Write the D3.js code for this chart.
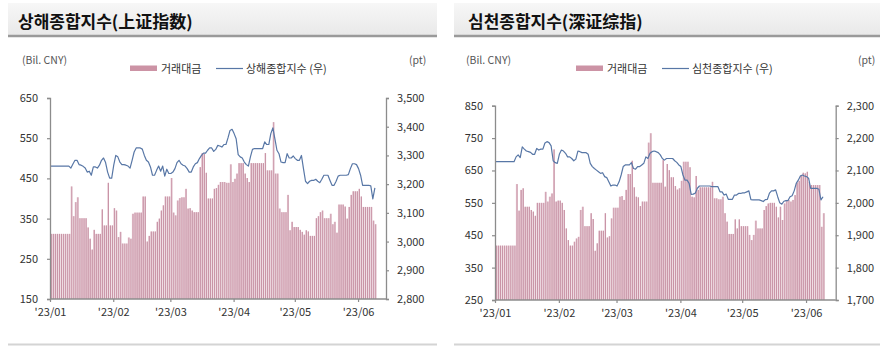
<!DOCTYPE html>
<html><head><meta charset="utf-8">
<script src="https://cdn.jsdelivr.net/npm/d3@7"></script>
<style>body{margin:0;background:#fff}svg{display:block}text{font-family:"Noto Sans CJK KR","Noto Sans",sans-serif}</style>
</head><body><svg id="c" width="892" height="352"></svg>
<script>
// ---------- data (daily, starting 2023-01-01) ----------
const startDate = "2023-01-01";
const monthTicks = ["2023-01-01","2023-02-01","2023-03-01","2023-04-01","2023-05-01","2023-06-01"];
const monthLabels = ["'23/01","'23/02","'23/03","'23/04","'23/05","'23/06"];

const shTitle = "상해종합지수(上证指数)";
const szTitle = "심천종합지수(深证综指)";
const barLegend = "거래대금";
const shLineLegend = "상해종합지수 (우)";
const szLineLegend = "심천종합지수 (우)";

const shLeftTicks = [150,250,350,450,550,650];
const shRightTicks = [2800,2900,3000,3100,3200,3300,3400,3500];
const szLeftTicks = [250,350,450,550,650,750,850];
const szRightTicks = [1700,1800,1900,2000,2100,2200,2300];

const shVolume = [312,312,312,312,312,312,312,312,312,312,
430,356,391,403,351,351,351,351,328,300,
273,322,312,312,312,373,333,333,439,333,
333,376,370,304,317,288,288,288,303,300,
362,365,365,365,365,405,405,293,307,318,
318,318,342,350,370,383,405,405,405,451,
365,358,395,401,403,403,424,375,376,370,
366,366,366,478,513,511,464,400,400,400,
424,426,434,441,441,441,439,439,485,441,
449,462,488,488,488,462,451,441,488,488,
488,488,488,488,488,513,470,470,470,590,
462,462,375,366,366,366,409,321,342,329,
329,329,322,317,310,321,318,307,307,307,
351,356,366,370,351,351,351,362,336,342,
315,385,385,385,380,350,379,409,418,418,
418,424,405,379,379,379,379,379,345,336];

const shIndex = [3263,3263,3263,3263,3263,3263,3263,3263,3263,3263,
3256,3270,3283,3283,3268,3266,3262,3256,3242,3245,
3231,3260,3260,3256,3266,3283,3291,3275,3242,3221,
3221,3266,3300,3295,3277,3268,3268,3266,3263,3256,
3283,3312,3326,3326,3326,3322,3300,3283,3277,3260,
3231,3231,3248,3263,3245,3263,3228,3252,3237,3237,
3242,3254,3275,3283,3271,3266,3263,3254,3242,3242,
3260,3271,3275,3289,3300,3308,3308,3318,3326,3326,
3314,3321,3335,3333,3329,3338,3338,3361,3387,3391,
3376,3358,3303,3295,3291,3277,3268,3263,3295,3321,
3324,3324,3324,3324,3324,3347,3338,3338,3376,3396,
3358,3318,3306,3277,3275,3275,3306,3291,3291,3298,
3289,3283,3283,3300,3254,3210,3202,3210,3213,3213,
3217,3210,3205,3217,3231,3231,3231,3213,3196,3196,
3210,3228,3231,3231,3231,3231,3233,3254,3271,3271,
3268,3254,3231,3196,3196,3196,3196,3194,3149,3187];

const szVolume = [418,418,418,418,418,418,418,418,418,418,
608,526,590,595,538,538,538,528,523,510,
550,550,550,550,584,554,569,579,715,554,
557,557,550,528,471,435,418,418,430,440,
445,528,538,478,478,478,518,500,402,425,
464,464,464,518,443,447,502,535,535,535,
569,571,559,590,639,639,680,598,569,567,
540,554,554,554,736,765,612,612,612,612,
612,682,600,670,651,629,629,602,591,595,
618,677,677,677,660,569,567,633,590,598,
598,598,598,598,598,615,564,564,561,561,
569,518,492,454,454,454,499,471,499,478,
478,478,478,451,435,451,495,471,471,471,
528,540,548,550,550,550,538,505,538,497,
548,559,559,554,559,574,612,618,636,643,
641,646,615,605,605,605,605,605,476,518];

const szIndex = [2127,2127,2127,2127,2127,2127,2127,2127,2127,2127,
2142,2148,2140,2173,2166,2160,2158,2156,2150,2150,
2168,2163,2166,2166,2185,2189,2186,2176,2130,2124,
2122,2150,2163,2160,2153,2142,2142,2137,2130,2135,
2160,2158,2155,2155,2155,2150,2122,2112,2106,2101,
2096,2091,2093,2081,2078,2065,2052,2055,2055,2052,
2065,2086,2112,2117,2117,2117,2124,2106,2104,2112,
2112,2117,2122,2142,2137,2153,2158,2160,2158,2155,
2148,2137,2132,2137,2137,2137,2137,2130,2125,2117,
2112,2086,2070,2070,2060,2026,2027,2030,2045,2052,
2052,2052,2052,2052,2052,2050,2050,2050,2050,2034,
2034,2024,2027,2011,2011,2011,2024,2024,2029,2029,
2031,2031,2034,2037,2010,2009,2009,2009,2009,2007,
2004,2010,2011,2030,2037,2037,2040,2019,2000,1996,
2005,2007,2007,2019,2022,2037,2060,2070,2083,2086,
2083,2081,2076,2045,2045,2045,2045,2042,2009,2019];

// ---------- drawing ----------
const svg = d3.select("#c");
svg.append("rect").attr("width",892).attr("height",352).attr("fill","#fff");
const defs = svg.append("defs");
const g0 = defs.append("linearGradient").attr("id","tg").attr("x1",0).attr("y1",0).attr("x2",0).attr("y2",1);
g0.append("stop").attr("offset","0%").attr("stop-color","#f7f7f7");
g0.append("stop").attr("offset","100%").attr("stop-color","#e9e9e9");

const parse = d3.timeParse("%Y-%m-%d");
const t0 = parse(startDate);
const BAR = "#e0bcc8", BAR_EDGE = "#b97990", LINE = "#5877a6", AX = "#8c8c8c", TXT = "#333";

function panel(o) {
  const g = svg.append("g").attr("transform", `translate(${o.ox},0)`);
  // title band
  g.append("rect").attr("x",8).attr("y",3).attr("width",o.bandW).attr("height",32).attr("fill","url(#tg)");
  g.append("line").attr("x1",8).attr("x2",8+o.bandW).attr("y1",36).attr("y2",36).attr("stroke","#9a9a9a").attr("stroke-width",2.6);
  g.append("text").attr("x",o.titleX).attr("y",28).attr("font-size",17).attr("font-weight",700).attr("fill","#111").text(o.title);
  // bottom rule
  g.append("line").attr("x1",8).attr("x2",8+o.bandW).attr("y1",344.5).attr("y2",344.5).attr("stroke","#d4d4d4").attr("stroke-width",2);

  // units
  g.append("text").attr("x",o.unitLX).attr("y",64).attr("font-size",10.5).attr("fill","#555").text("(Bil. CNY)");
  g.append("text").attr("x",o.unitRX).attr("y",64).attr("font-size",10.5).attr("fill","#555").text("(pt)");
  // legend
  g.append("rect").attr("x",130).attr("y",65.5).attr("width",27).attr("height",5.5).attr("fill","#cc93a5");
  g.append("text").attr("x",161).attr("y",72.5).attr("font-size",11).attr("fill",TXT).text(barLegend);
  g.append("line").attr("x1",216).attr("x2",243).attr("y1",68.5).attr("y2",68.5).attr("stroke",LINE).attr("stroke-width",1.2);
  g.append("text").attr("x",246).attr("y",72.5).attr("font-size",11).attr("fill",TXT).text(o.lineLegend);

  const dates = o.vol.map((v,i)=>d3.timeDay.offset(t0,i));
  const x = d3.scaleTime().domain([t0, new Date(+t0 + o.spanDays*864e5)]).range([o.x0, o.x1]);
  const yL = d3.scaleLinear().domain(d3.extent(o.lTicks)).range([o.yb, o.yt]);
  const yR = d3.scaleLinear().domain(d3.extent(o.rTicks)).range([o.yb, o.yt]);
  const step = x(d3.timeDay.offset(t0,1)) - x(t0);
  const base = yL(yL.domain()[0]);

  // bars (light body with darker edge, as in the reference)
  const bg = g.append("g");
  bg.selectAll("rect.b").data(o.vol).join("rect").attr("class","b")
    .attr("x",(d,i)=>x(dates[i])+0.3).attr("width",step*0.75)
    .attr("y",d=>yL(d)).attr("height",d=>base-yL(d))
    .attr("fill",BAR);
  bg.selectAll("rect.e").data(o.vol).join("rect").attr("class","e")
    .attr("x",(d,i)=>x(dates[i])+0.3+step*0.75-0.6).attr("width",0.6)
    .attr("y",d=>yL(d)).attr("height",d=>base-yL(d))
    .attr("fill",BAR_EDGE);
  // line
  const ln = d3.line().x((d,i)=>x(dates[i])+0.5).y(d=>yR(d));
  g.append("path").datum(o.idx).attr("d",ln).attr("fill","none").attr("stroke",LINE).attr("stroke-width",1.2).attr("stroke-linejoin","round");

  // axes
  const fmt = d3.format(",");
  const aL = g.append("g").attr("transform",`translate(${o.x0},0)`)
    .call(d3.axisLeft(yL).tickValues(o.lTicks).tickSize(3).tickPadding(9).tickFormat(d3.format("d")));
  const aR = g.append("g").attr("transform",`translate(${o.x1},0)`)
    .call(d3.axisRight(yR).tickValues(o.rTicks).tickSize(3).tickPadding(8).tickFormat(fmt));
  const aB = g.append("g").attr("transform",`translate(0,${o.yb})`)
    .call(d3.axisBottom(x).tickValues(monthTicks.map(parse)).tickSize(3).tickPadding(6)
      .tickFormat((d,i)=>monthLabels[i]));
  [aL,aR,aB].forEach(a=>{
    a.select(".domain").attr("stroke",AX).attr("stroke-width",1.3);
    a.selectAll(".tick line").attr("stroke",AX).attr("stroke-width",1.2);
    a.selectAll("text").attr("font-size",11).attr("fill",TXT).attr("font-family",'"Noto Sans CJK KR",sans-serif');
  });
  aB.select(".domain").attr("d",`M${o.x0},0H${o.x1}`);
}

panel({ox:0, bandW:429, titleX:18, title:shTitle, lineLegend:shLineLegend, unitLX:22, unitRX:409,
  vol:shVolume, idx:shIndex, lTicks:shLeftTicks, rTicks:shRightTicks,
  x0:50, x1:386, spanDays:164.7, yt:98, yb:299});
panel({ox:446, bandW:426, titleX:22, title:szTitle, lineLegend:szLineLegend, unitLX:20, unitRX:412,
  vol:szVolume, idx:szIndex, lTicks:szLeftTicks, rTicks:szRightTicks,
  x0:49, x1:389.7, spanDays:165.4, yt:105.7, yb:300});
</script></body></html>
